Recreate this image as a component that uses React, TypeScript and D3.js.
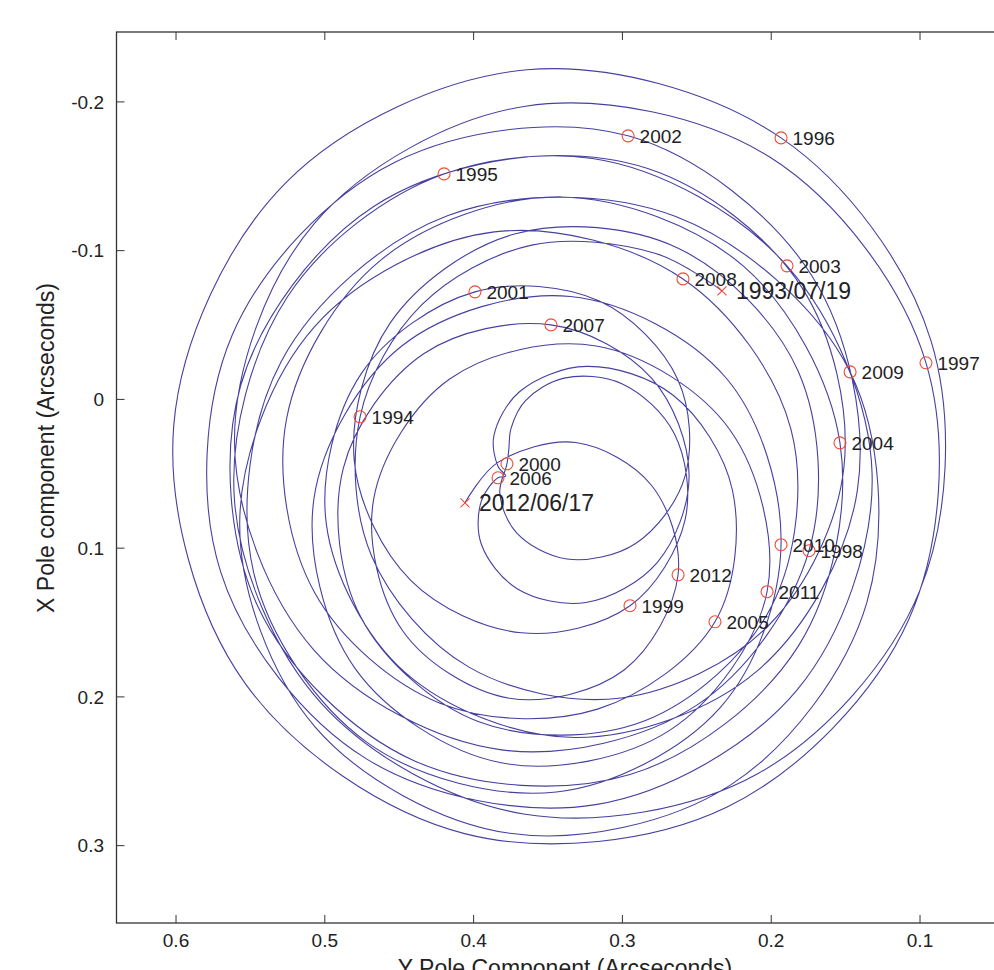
import React from "react";
import * as d3 from "d3";

// Polar motion path, 1993/07/19 -> 2012/06/17 (Y pole component, X pole component), arcseconds
const yPole = [
  0.2331, 0.2776, 0.3610, 0.4351, 0.4763, 0.4685, 0.4034, 0.3008, 0.2013, 0.1511, 0.1796, 0.2830,
  0.4199, 0.5251, 0.5607, 0.5022, 0.3664, 0.2088, 0.1001, 0.0925, 0.1934, 0.3642, 0.5261, 0.6015,
  0.5538, 0.4061, 0.2296, 0.1075, 0.0960, 0.2005, 0.3651, 0.5071, 0.5607, 0.5073, 0.3813, 0.2495,
  0.1746, 0.1821, 0.2629, 0.3718, 0.4558, 0.4802, 0.4421, 0.3678, 0.2949, 0.2579, 0.2651, 0.3004,
  0.3392, 0.3651, 0.3749, 0.3763, 0.3776, 0.3824, 0.3711, 0.3373, 0.2914, 0.2580, 0.2628, 0.3155,
  0.3991, 0.4755, 0.4990, 0.4461, 0.3323, 0.2096, 0.1421, 0.1726, 0.2962, 0.4532, 0.5623, 0.5700,
  0.4723, 0.3180, 0.1826, 0.1322, 0.1894, 0.3202, 0.4669, 0.5565, 0.5450, 0.4400, 0.2949, 0.1817,
  0.1538, 0.2185, 0.3419, 0.4626, 0.5257, 0.5069, 0.4226, 0.3167, 0.2378, 0.2261, 0.2659, 0.3241,
  0.3690, 0.3864, 0.3835, 0.3784, 0.3836, 0.3948, 0.3948, 0.3705, 0.3245, 0.2765, 0.2552, 0.2803,
  0.3480, 0.4333, 0.4876, 0.4759, 0.3965, 0.2854, 0.1996, 0.1868, 0.2593, 0.3861, 0.5067, 0.5572,
  0.5066, 0.3757, 0.2275, 0.1357, 0.1470, 0.2642, 0.4172, 0.5292, 0.5478, 0.4712, 0.3444, 0.2343,
  0.1934, 0.2303, 0.3350, 0.4483, 0.5073, 0.4796, 0.3815, 0.2683, 0.2028, 0.2278, 0.3177, 0.4161,
  0.4672, 0.4477, 0.3759, 0.2991, 0.2626, 0.2805, 0.3314, 0.3839, 0.4058,
];
const xPole = [
  -0.0730, -0.0981, -0.1037, -0.0634, 0.0117, 0.1054, 0.1798, 0.2007, 0.1515, 0.0453, -0.0755, -0.1552,
  -0.1516, -0.0690, 0.0680, 0.2045, 0.2787, 0.2515, 0.1284, -0.0390, -0.1758, -0.2216, -0.1458, 0.0173,
  0.1906, 0.2919, 0.2740, 0.1478, -0.0246, -0.1626, -0.1971, -0.1182, 0.0287, 0.1685, 0.2356, 0.2052,
  0.1017, -0.0194, -0.1018, -0.1114, -0.0518, 0.0413, 0.1218, 0.1569, 0.1387, 0.0810, 0.0231, -0.0106,
  -0.0143, 0.0008, 0.0196, 0.0331, 0.0433, 0.0630, 0.0897, 0.1073, 0.0970, 0.0519, -0.0134, -0.0661,
  -0.0723, -0.0173, 0.0837, 0.1835, 0.2273, 0.1827, 0.0612, -0.0830, -0.1772, -0.1593, -0.0431, 0.1159,
  0.2415, 0.2724, 0.1953, 0.0501, -0.0898, -0.1620, -0.1299, -0.0095, 0.1392, 0.2429, 0.2522, 0.1657,
  0.0292, -0.0894, -0.1361, -0.0935, 0.0130, 0.1298, 0.2042, 0.2082, 0.1495, 0.0609, -0.0028, -0.0222,
  -0.0053, 0.0245, 0.0453, 0.0515, 0.0527, 0.0683, 0.0974, 0.1274, 0.1365, 0.1095, 0.0507, -0.0142,
  -0.0501, -0.0309, 0.0463, 0.1462, 0.2167, 0.2162, 0.1388, 0.0198, -0.0810, -0.1126, -0.0491, 0.0833,
  0.2201, 0.2917, 0.2593, 0.1364, -0.0185, -0.1230, -0.1236, -0.0257, 0.1165, 0.2309, 0.2639, 0.2072,
  0.0977, -0.0144, -0.0692, -0.0359, 0.0666, 0.1810, 0.2443, 0.2225, 0.1293, 0.0204, -0.0359, -0.0137,
  0.0672, 0.1555, 0.2009, 0.1821, 0.1179, 0.0577, 0.0290, 0.0425, 0.0695,
];

// Yearly (Jan 1) markers
const markerLabels = [
  "1994", "1995", "1996", "1997", "1998", "1999", "2000", "2001", "2002", "2003",
  "2004", "2005", "2006", "2007", "2008", "2009", "2010", "2011", "2012",
];
const markerY = [
  0.4763, 0.4199, 0.1934, 0.0960, 0.1746, 0.2949, 0.3776, 0.3991, 0.2962, 0.1894,
  0.1538, 0.2378, 0.3836, 0.3480, 0.2593, 0.1470, 0.1934, 0.2028, 0.2626,
];
const markerX = [
  0.0117, -0.1516, -0.1758, -0.0246, 0.1017, 0.1387, 0.0433, -0.0723, -0.1772, -0.0898,
  0.0292, 0.1495, 0.0527, -0.0501, -0.0810, -0.0185, 0.0977, 0.1293, 0.1179,
];

// Start / end points
const endLabels = ["1993/07/19", "2012/06/17"];
const endY = [0.2331, 0.4058];
const endX = [-0.0730, 0.0695];

const xTicks = [0.6, 0.5, 0.4, 0.3, 0.2, 0.1];
const yTicks = [-0.2, -0.1, 0, 0.1, 0.2, 0.3];

const FONT = "'Liberation Sans', Arial, Helvetica, sans-serif";

export default function App() {
  const W = 994;
  const H = 970;
  const left = 116.5;
  const right = 1009.3;
  const top = 32;
  const bottom = 923;

  const sx = d3.scaleLinear().domain([0.64, 0.04]).range([left, right]);
  const sy = d3.scaleLinear().domain([-0.247, 0.352]).range([top, bottom]);

  const pts: [number, number][] = yPole.map((v, i) => [sx(v), sy(xPole[i])]);
  const path = d3.line().curve(d3.curveCatmullRom.alpha(0.5))(pts) || "";

  const fmt = (v: number) => (v === 0 ? "0" : v.toFixed(1));
  const tick = 8;
  const markerColor = "#f04a35";
  const lineColor = "#4640a0";

  return (
    <div style={{ position: "absolute", left: 0, top: 0, width: W, height: H, overflow: "hidden", background: "#fff" }}>
      <svg width={W} height={H} style={{ display: "block" }} fontFamily={FONT}>
        <rect x={0} y={0} width={W} height={H} fill="#fff" />
        <defs>
          <clipPath id="plotclip">
            <rect x={left} y={top} width={right - left} height={bottom - top} />
          </clipPath>
        </defs>

        {/* ticks */}
        {xTicks.map((t) => (
          <g key={"xt" + t}>
            <line x1={sx(t)} x2={sx(t)} y1={bottom} y2={bottom - tick} stroke="#333" strokeWidth={1} />
            <line x1={sx(t)} x2={sx(t)} y1={top} y2={top + tick} stroke="#333" strokeWidth={1} />
            <text x={sx(t)} y={947} textAnchor="middle" fontSize={19} fill="#222">
              {fmt(t)}
            </text>
          </g>
        ))}
        {yTicks.map((t) => (
          <g key={"yt" + t}>
            <line x1={left} x2={left + tick} y1={sy(t)} y2={sy(t)} stroke="#333" strokeWidth={1} />
            <line x1={right} x2={right - tick} y1={sy(t)} y2={sy(t)} stroke="#333" strokeWidth={1} />
            <text x={104} y={sy(t)} dy="0.35em" textAnchor="end" fontSize={19} fill="#222">
              {fmt(t)}
            </text>
          </g>
        ))}

        {/* data path */}
        <g clipPath="url(#plotclip)">
          <path d={path} fill="none" stroke={lineColor} strokeWidth={1.1} strokeLinejoin="round" />
        </g>

        {/* yearly markers */}
        {markerLabels.map((lab, i) => {
          const cx = sx(markerY[i]);
          const cy = sy(markerX[i]);
          return (
            <g key={lab}>
              <circle cx={cx} cy={cy} r={6} fill="none" stroke={markerColor} strokeWidth={1.1} />
              <text x={cx + 11.5} y={cy + 7} fontSize={19} fill="#222">
                {lab}
              </text>
            </g>
          );
        })}

        {/* start / end markers */}
        {endLabels.map((lab, i) => {
          const cx = sx(endY[i]);
          const cy = sy(endX[i]);
          const s = 4.5;
          return (
            <g key={lab}>
              <line x1={cx - s} y1={cy - s} x2={cx + s} y2={cy + s} stroke={markerColor} strokeWidth={1.1} />
              <line x1={cx - s} y1={cy + s} x2={cx + s} y2={cy - s} stroke={markerColor} strokeWidth={1.1} />
              <text x={cx + 14} y={cy + 8.5} fontSize={23} fill="#222">
                {lab}
              </text>
            </g>
          );
        })}

        {/* frame */}
        <rect x={left} y={top} width={right - left} height={bottom - top} fill="none" stroke="#333" strokeWidth={1.3} />

        {/* axis labels */}
        <text x={565} y={976} textAnchor="middle" fontSize={23} fill="#222">
          Y Pole Component (Arcseconds)
        </text>
        <text
          transform={`translate(54,${448}) rotate(-90)`}
          textAnchor="middle"
          fontSize={23}
          fill="#222"
        >
          X Pole component (Arcseconds)
        </text>
      </svg>
    </div>
  );
}
